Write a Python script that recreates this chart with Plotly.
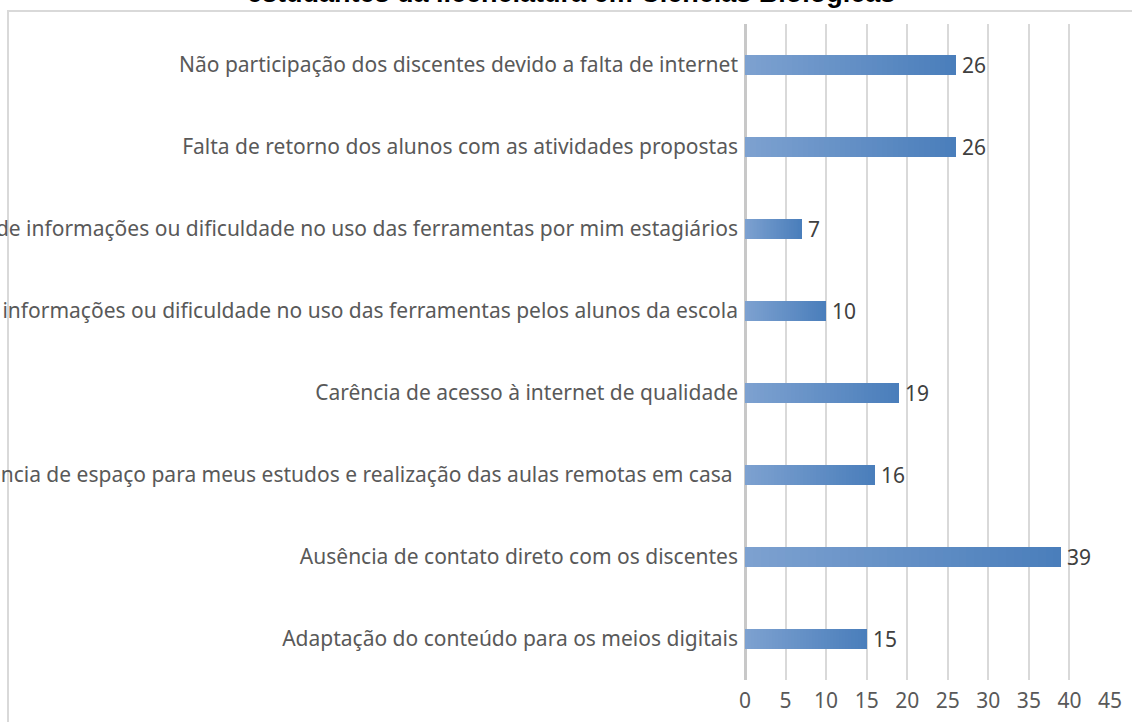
import plotly.graph_objects as go

categories = [
    "Não participação dos discentes devido a falta de internet",
    "Falta de retorno dos alunos com as atividades propostas",
    "Falta de informações ou dificuldade no uso das ferramentas por mim estagiários",
    "Falta de informações ou dificuldade no uso das ferramentas pelos alunos da escola",
    "Carência de acesso à internet de qualidade",
    "Carência de espaço para meus estudos e realização das aulas remotas em casa ",
    "Ausência de contato direto com os discentes",
    "Adaptação do conteúdo para os meios digitais",
]
values = [26, 26, 7, 10, 19, 16, 39, 15]
x_ticks = [0, 5, 10, 15, 20, 25, 30, 35, 40, 45]
title_text = "estudantes da licenciatura em Ciências Biológicas"

W, H = 1132, 722
L, R, T, B = 745, 22, 24, 42
pw, ph = W - L - R, H - T - B
FONT = "Noto Sans"
FS = 21

fig = go.Figure()

# gradient bars: each bar split into equal slices coloured light -> dark
N = 40
c0 = (125, 161, 208)
c1 = (74, 126, 187)
for i in range(N):
    f = i / (N - 1)
    col = "rgb(%d,%d,%d)" % tuple(round(a + (b - a) * f) for a, b in zip(c0, c1))
    fig.add_trace(go.Bar(
        x=[v / N for v in values], y=categories, orientation="h",
        marker=dict(color=col, line=dict(width=0)),
        showlegend=False, hoverinfo="skip",
    ))

for c, v in zip(categories, values):
    fig.add_annotation(x=v, y=c, text=str(v), showarrow=False, xanchor="left",
                       xshift=4, font=dict(family=FONT, size=FS, color="#404040"))

fig.add_annotation(xref="paper", yref="paper", x=(571 - L) / pw, y=1 + (T - 10) / ph,
                   text="<b>" + title_text + "</b>", showarrow=False, xanchor="center",
                   yanchor="bottom", font=dict(family="Liberation Sans", size=27, color="#000000"))

# chart border (style)
fig.add_shape(type="rect", xref="paper", yref="paper",
              x0=(8 - L) / pw, x1=1 + (R + 20) / pw, y0=-0.2, y1=1 + (T - 11) / ph,
              line=dict(color="#d9d9d9", width=2), fillcolor="rgba(0,0,0,0)", layer="below")

fig.update_layout(
    width=W, height=H, barmode="stack", bargap=0.756,
    margin=dict(l=L, r=R, t=T, b=B, autoexpand=False),
    paper_bgcolor="white", plot_bgcolor="white",
    xaxis=dict(range=[0, 45], tickvals=x_ticks, showgrid=True, gridcolor="#d9d9d9",
               gridwidth=2, zeroline=True, zerolinecolor="#c8c8c8", zerolinewidth=3,
               tickfont=dict(family=FONT, size=FS, color="#595959"),
               ticks="", ticklabelstandoff=6, fixedrange=True),
    yaxis=dict(categoryorder="array", categoryarray=categories[::-1], showgrid=False,
               ticks="", ticklabelstandoff=6,
               tickfont=dict(family=FONT, size=FS, color="#595959")),
)

fig.write_html("out.html")
